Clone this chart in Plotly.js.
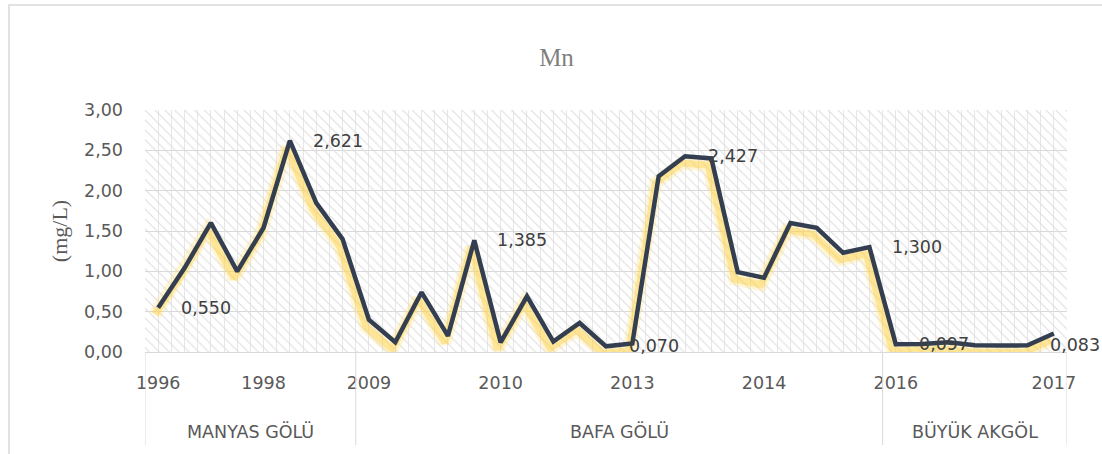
<!DOCTYPE html>
<html>
<head>
<meta charset="utf-8">
<script src="https://cdn.plot.ly/plotly-3.0.1.min.js"></script>
<style>
  html, body { margin: 0; padding: 0; background: #ffffff; }
  #chart { width: 1102px; height: 454px; }
</style>
</head>
<body>
<div id="chart"></div>
<script>
// ---- data ----
const chartTitle = 'Mn';
const yTitle = '(mg/L)';
const lakes = ['MANYAS GÖLÜ', 'BAFA GÖLÜ', 'BÜYÜK AKGÖL'];
const lakeCounts = [8, 20, 7];
const mnValues = [
  0.550, 1.04, 1.60, 1.00, 1.54, 2.621, 1.85, 1.40,
  0.40, 0.12, 0.74, 0.20, 1.385, 0.12, 0.69, 0.13, 0.36, 0.070, 0.105,
  2.18, 2.427, 2.40, 0.99, 0.92, 1.60, 1.54, 1.23, 1.300,
  0.097, 0.10, 0.12, 0.085, 0.08, 0.083, 0.23
];
const yearTickIndex = [0, 4, 8, 13, 18, 23, 28, 34];
const yearTickLabels = ['1996', '1998', '2009', '2010', '2013', '2014', '2016', '2017'];
const labeledIndex = [0, 5, 12, 17, 20, 27, 28, 33];

// ---- derived ----
const xIdx = mnValues.map((_, i) => i);
const nCat = mnValues.length;
const xRange = [-0.5, nCat - 0.5];
const yRange = [0, 3];

const boundaries = [-0.5];
let acc = -0.5;
lakeCounts.forEach(c => { acc += c; boundaries.push(acc); });
const lakeCenters = lakeCounts.map((c, i) => (boundaries[i] + boundaries[i + 1]) / 2);

const tickFont = { family: 'DejaVu Sans, Open Sans, sans-serif', size: 17.5, color: '#595959' };
const grid = '#D9D9D9';

const hatch = {
  x: [xRange[0], xRange[1], xRange[1], xRange[0], xRange[0]],
  y: [yRange[0], yRange[0], yRange[1], yRange[1], yRange[0]],
  xaxis: 'x', yaxis: 'y',
  mode: 'lines', fill: 'toself',
  line: { width: 0, color: 'rgba(0,0,0,0)' },
  fillcolor: 'rgba(0,0,0,0)',
  fillpattern: { shape: '\\', size: 7, solidity: 0.15, fgcolor: '#DEDEDE', bgcolor: 'rgba(0,0,0,0)' },
  hoverinfo: 'skip', showlegend: false
};

const glowWide = {
  x: xIdx, y: mnValues, xaxis: 'x2', yaxis: 'y2',
  mode: 'lines',
  line: { color: 'rgba(255,220,110,0.28)', width: 13 },
  hoverinfo: 'skip', showlegend: false
};
const glowCore = {
  x: xIdx, y: mnValues, xaxis: 'x2', yaxis: 'y2',
  mode: 'lines',
  line: { color: 'rgba(255,210,70,0.45)', width: 7 },
  hoverinfo: 'skip', showlegend: false
};
const mainLine = {
  x: xIdx, y: mnValues, xaxis: 'x3', yaxis: 'y3',
  mode: 'lines',
  line: { color: '#333F50', width: 4.5 },
  name: chartTitle, showlegend: false
};

const annotations = labeledIndex.map(i => ({
  x: i, y: mnValues[i], xref: 'x', yref: 'y',
  text: mnValues[i].toFixed(3).replace('.', ','),
  showarrow: false, xanchor: 'left', yanchor: 'middle', xshift: 21,
  font: { family: tickFont.family, size: 17.5, color: '#404040' }
}));
lakes.forEach((name, i) => {
  annotations.push({
    x: lakeCenters[i], y: -0.327, xref: 'x', yref: 'paper',
    text: name, showarrow: false, xanchor: 'center', yanchor: 'middle',
    font: tickFont
  });
});

const shapes = boundaries.map(b => ({
  type: 'line', xref: 'x', yref: 'paper', x0: b, x1: b, y0: 0, y1: -0.384,
  line: { color: grid, width: 1 }
}));
shapes.push({
  type: 'rect', xref: 'paper', yref: 'paper', layer: 'below',
  x0: -0.1475, x1: 1.05, y0: -0.45, y1: 1.434,
  line: { color: '#D9D9D9', width: 1.5 }
});

const layout = {
  width: 1102, height: 454,
  margin: { l: 145, r: 35, t: 110, b: 102, pad: 0 },
  paper_bgcolor: '#ffffff', plot_bgcolor: '#ffffff',
  separators: ',.',
  title: {
    text: chartTitle, xref: 'container', yref: 'container', x: 0.505, y: 0.874,
    xanchor: 'center', yanchor: 'middle',
    font: { family: 'Liberation Serif, Times New Roman, serif', size: 25, color: '#7F7F7F' }
  },
  xaxis: {
    range: xRange, tickmode: 'array', tickvals: yearTickIndex, ticktext: yearTickLabels,
    ticks: '', showgrid: false, zeroline: false,
    showline: true, linecolor: grid, linewidth: 1,
    tickfont: tickFont, ticklabelstandoff: 15,
    minor: { tickmode: 'linear', tick0: -0.5, dtick: 0.5, showgrid: true, gridcolor: '#E6E6E6', gridwidth: 1, ticks: '' }
  },
  yaxis: {
    range: yRange, tickmode: 'linear', tick0: 0, dtick: 0.5, tickformat: '.2f',
    ticks: '', showgrid: true, gridcolor: grid, gridwidth: 1, zeroline: false,
    showline: false, tickfont: tickFont, ticklabelstandoff: 21,
    title: { text: yTitle, standoff: 10, font: { family: 'Liberation Serif, Times New Roman, serif', size: 22, color: '#595959' } }
  },
  xaxis2: { overlaying: 'x', range: [xRange[0] + 0.12, xRange[1] + 0.12], visible: false },
  yaxis2: { overlaying: 'y', range: [yRange[0] + 0.085, yRange[1] + 0.085], visible: false },
  xaxis3: { overlaying: 'x', range: xRange, visible: false },
  yaxis3: { overlaying: 'y', range: yRange, visible: false },
  annotations: annotations,
  shapes: shapes,
  showlegend: false
};

Plotly.newPlot('chart', [hatch, glowWide, glowCore, mainLine], layout, { displayModeBar: false, staticPlot: true });
</script>
</body>
</html>
